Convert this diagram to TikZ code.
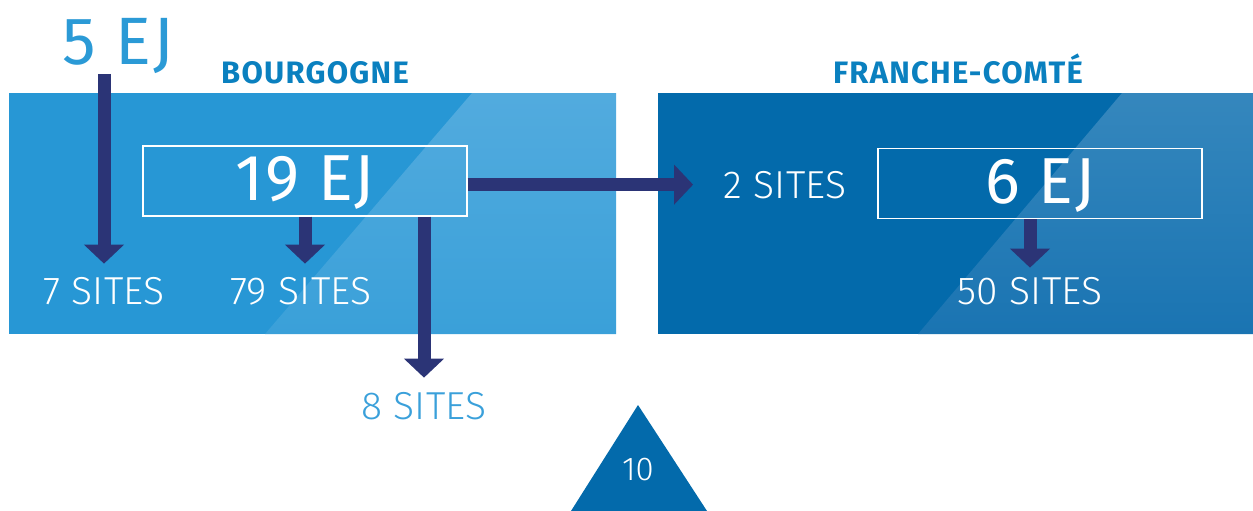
\documentclass[tikz,border=0pt]{standalone}
\usepackage{fontspec}
\setmainfont{Fira Sans}
\newfontfamily\thinfont{Fira Sans Light}
\usetikzlibrary{arrows.meta}
\definecolor{bourgblue}{HTML}{2797D5}
\definecolor{bourgtop}{HTML}{52ABDE}
\definecolor{bourgbottom}{HTML}{3AA0D9}
\definecolor{comteblue}{HTML}{036AAB}
\definecolor{comtetop}{HTML}{3587BD}
\definecolor{comtebottom}{HTML}{1A74B2}
\definecolor{navy}{HTML}{2B3476}
\definecolor{titleblue}{HTML}{0A80BF}
\definecolor{numblue}{HTML}{2B9AD6}
\definecolor{sitesblue}{HTML}{3AA0DA}
\tikzset{
  flow/.style={draw=navy, line width=13pt, -{Triangle[width=39pt,length=19pt]}},
  ejbox/.style={draw=white, line width=1.2pt, minimum width=324pt, minimum height=70pt, inner sep=0pt},
  bignum/.style={anchor=base, inner sep=0pt, text=white, font=\fontsize{65}{65}\selectfont\addfontfeatures{LetterSpace=3}},
  sites/.style={anchor=base, inner sep=0pt, text=white, font=\thinfont\fontsize{39}{39}\selectfont\addfontfeatures{LetterSpace=1}},
  title/.style={anchor=base, inner sep=0pt, text=titleblue, font=\bfseries\fontsize{31}{31}\selectfont\addfontfeatures{LetterSpace=4}}
}
\begin{document}
\begin{tikzpicture}[x=1pt,y=-1pt]
\useasboundingbox (0,0) rectangle (1253,511);
% the two regions
\fill[bourgblue] (9,93) rectangle (616,334);
\shade[top color=bourgtop, bottom color=bourgbottom] (472,93) -- (616,93) -- (616,334) -- (265,334) -- cycle;
\fill[comteblue] (658,93) rectangle (1253,334);
\shade[top color=comtetop, bottom color=comtebottom] (1122,93) -- (1253,93) -- (1253,334) -- (918,334) -- cycle;
\node[title] (bourgogne) at (315,83) {BOURGOGNE};
\node[title] (franche) at (958,83) {FRANCHE-COMTÉ};
\node[ejbox] (box19) at (305,181) {};
\node[ejbox] (box6) at (1040,183.5) {};
\node[bignum, text=numblue, font=\fontsize{67}{67}\selectfont\addfontfeatures{LetterSpace=3}] (ej5) at (118,65) {5 EJ};
\node[bignum] (ej19) at (305,200) {19 EJ};
\node[bignum] (ej6) at (1040,203) {6 EJ};
\node[sites] (sites7) at (104,304) {7 SITES};
\node[sites] (sites79) at (301,304) {79 SITES};
\node[sites, text=sitesblue] (sites8) at (424,419) {8 SITES};
\node[sites] (sites2) at (785,198) {2 SITES};
\node[sites] (sites50) at (1030,304) {50 SITES};
% page mark
\fill[comteblue] (638,405) -- (707,511) -- (571,511) -- cycle;
\node[sites, font=\thinfont\fontsize{33}{33}\selectfont] (page) at (638,480) {10};
% arrows
\draw[flow] ([yshift=-9pt]ej5.base -| sites7) -- ([yshift=13pt]sites7.north);
\draw[flow] (box19.south) -- ([yshift=13pt]box19.south |- sites79.north);
\draw[flow] (box19.south -| sites8) -- ([yshift=14pt]sites8.north);
\draw[flow] (box19.east |- sites2) -- ([xshift=-30pt]sites2.west);
\draw[flow] (box6.south -| sites50) -- ([yshift=9pt]sites50.north);
\end{tikzpicture}
\end{document}
